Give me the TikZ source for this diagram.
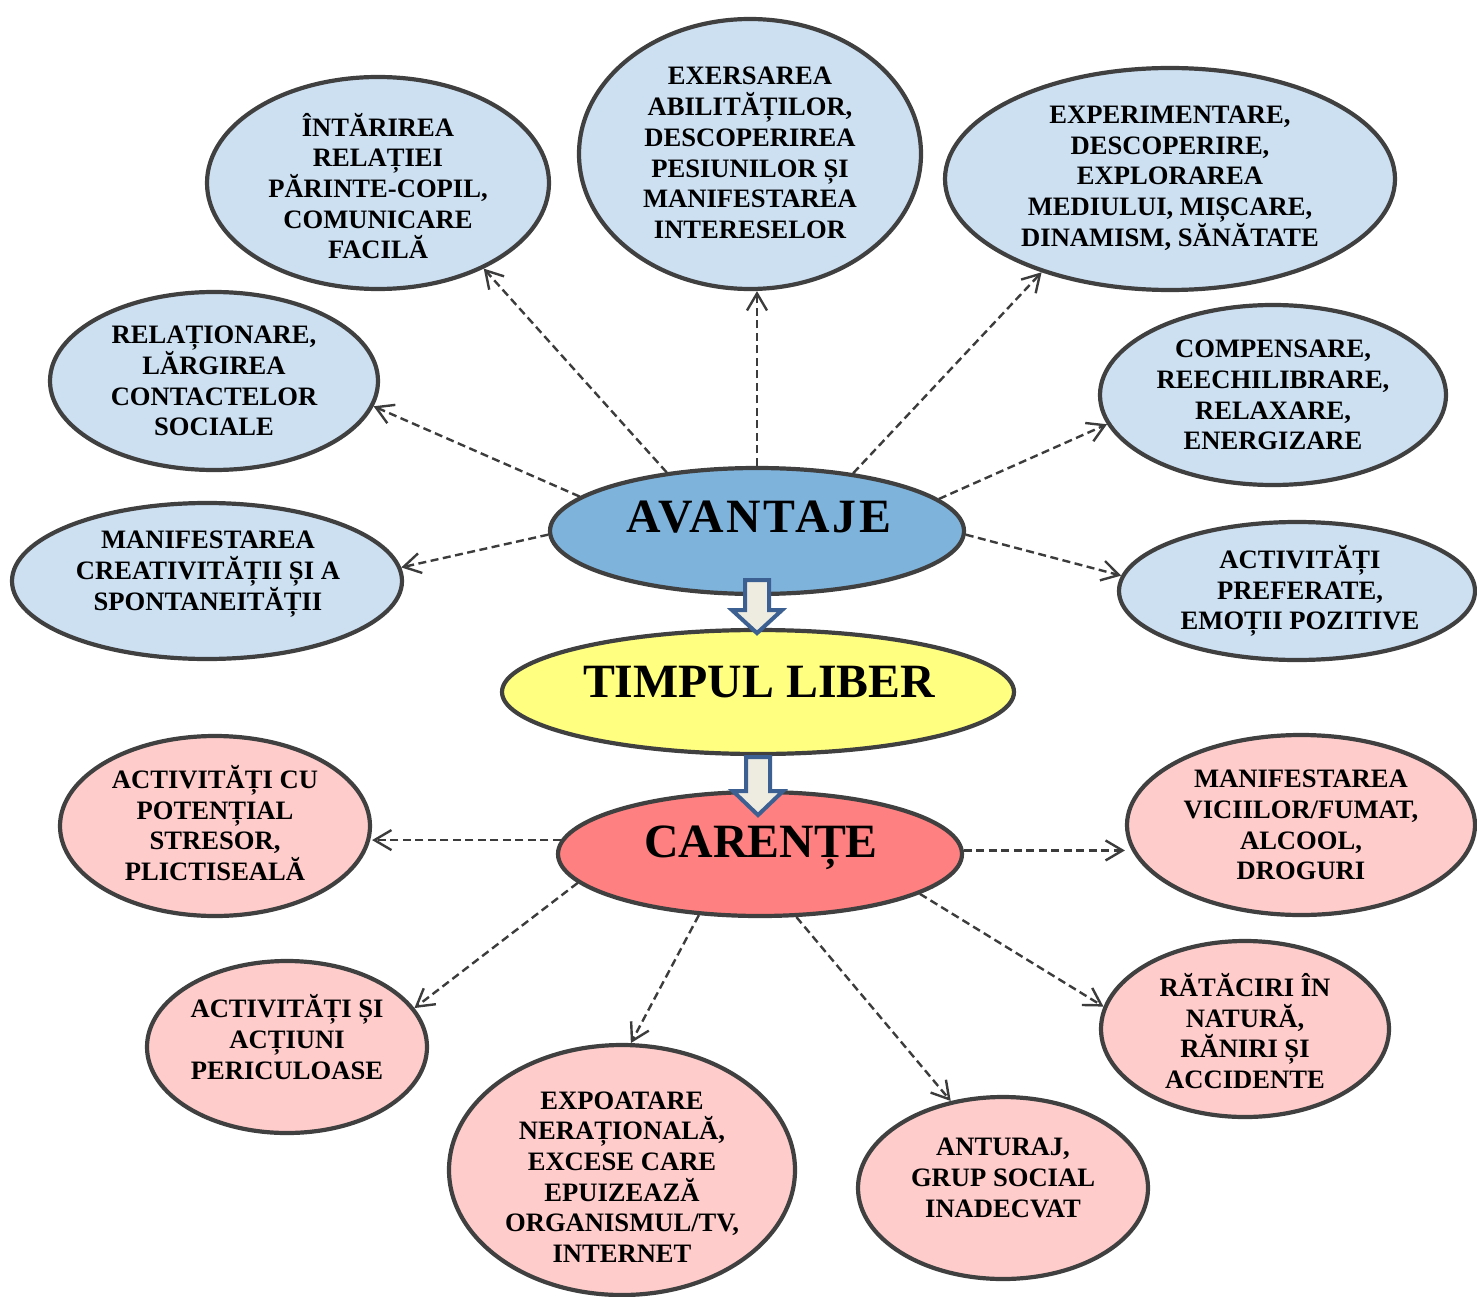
\documentclass[tikz,border=0pt]{standalone}
\usepackage{fontspec}
\setmainfont{Liberation Serif}
\usetikzlibrary{arrows.meta,shapes.geometric,calc}

\definecolor{edgegray}{RGB}{64,64,64}
\definecolor{linkgray}{RGB}{60,60,60}
\definecolor{paleblue}{RGB}{204,224,242}
\definecolor{midblue}{RGB}{126,179,220}
\definecolor{sunyellow}{RGB}{255,255,128}
\definecolor{salmon}{RGB}{255,128,128}
\definecolor{palepink}{RGB}{255,204,204}
\definecolor{arrowblue}{RGB}{60,96,146}
\definecolor{arrowfill}{RGB}{238,236,225}

\begin{document}
\begin{tikzpicture}[x=1pt,y=-1pt,
  bubble/.style={ellipse, draw=edgegray, line width=4.2pt, inner sep=0pt},
  pro/.style={bubble, fill=paleblue},
  con/.style={bubble, fill=palepink},
  txt/.style={align=center, inner sep=0pt, font=\fontsize{26.6}{30.7}\selectfont\bfseries},
  big/.style={inner sep=0pt, text depth=0pt, font=\fontsize{47.8}{50}\selectfont\bfseries},
  link/.style={draw=linkgray, line width=2.4pt, dash pattern=on 8pt off 4.5pt,
    -{Straight Barb[length=17pt,width=20pt]}},
  blockarrow/.style={draw=arrowblue, fill=arrowfill, line width=4pt, line join=miter}
]
\useasboundingbox (0,0) rectangle (1477,1297);

% --- advantages (upper half) ---
\node[pro, minimum width=342pt, minimum height=212pt] (e1) at (378,183) {};
\node[pro, minimum width=342pt, minimum height=270pt] (e2) at (750,154) {};
\node[pro, minimum width=450pt, minimum height=222pt] (e3) at (1170,179) {};
\node[pro, minimum width=328pt, minimum height=178pt] (e4) at (214,381) {};
\node[pro, minimum width=346pt, minimum height=180pt] (e5) at (1273,395) {};
\node[pro, minimum width=390pt, minimum height=156pt] (e6) at (207,581) {};
\node[pro, minimum width=356pt, minimum height=138pt] (e7) at (1297,591) {};

% --- central column ---
\node[bubble, fill=midblue,   minimum width=414pt, minimum height=126pt] (e8)  at (757,531) {};
\node[bubble, fill=sunyellow, minimum width=512pt, minimum height=124pt] (e9)  at (758,692) {};
\node[bubble, fill=salmon,    minimum width=404pt, minimum height=124pt] (e10) at (760,854) {};

% --- shortcomings (lower half) ---
\node[con, minimum width=310pt, minimum height=180pt] (e11) at (215,826) {};
\node[con, minimum width=348pt, minimum height=180pt] (e12) at (1301,825) {};
\node[con, minimum width=280pt, minimum height=172pt] (e13) at (287,1047) {};
\node[con, minimum width=288pt, minimum height=176pt] (e14) at (1245,1029) {};
\node[con, minimum width=346pt, minimum height=250pt] (e15) at (622,1170) {};
\node[con, minimum width=290pt, minimum height=182pt] (e16) at (1003,1188) {};

% --- dashed links from AVANTAJE ---
\draw[link] (e8.147.8) -- (e1.-39.6);
\draw[link] (e8.north) -- (e8.north |- e2.south);
\draw[link] (e8.31.4) -- (e3.216.3);
\draw[link] (e8.169.9) -- (e4.-9.6);
\draw[link] (e8.181) -- (e6.4.3);
\draw[link] (e8.10) -- (e5.190.3);
\draw[link] (e8.-1) -- (e7.175.3);

% --- dashed links from CARENȚE ---
\draw[link] (e10.176) -- (e10.176 -| e11.east);
\draw[link] (e10.1) -- (e10.1 -| e12.west);
\draw[link] (e10.189.4) -- (e13.17.1);
\draw[link] (e10.225.4) -- (e15.86.4);
\draw[link] (e10.-60) -- (e16.121.9);
\draw[link] (e10.-14.9) -- (e14.171.2);

% --- block arrows down the central column ---
\path[blockarrow] (e8.south) ++(-12,-16) -- ++(24,0) -- ++(0,30) -- ++(13,0)
  -- ++(-25,23) -- ++(-25,-23) -- ++(13,0) -- cycle;
\path[blockarrow] (e9.south) ++(-12,1) -- ++(24,0) -- ++(0,34) -- ++(13,0)
  -- ++(-25,24) -- ++(-25,-24) -- ++(13,0) -- cycle;

% --- labels ---
\node[txt] (t1) at (378,186) {ÎNTĂRIREA\\RELAȚIEI\\PĂRINTE-COPIL,\\COMUNICARE\\FACILĂ};
\node[txt] (t2) at (750,153) {EXERSAREA\\ABILITĂȚILOR,\\DESCOPERIREA\\PESIUNILOR ȘI\\MANIFESTAREA\\INTERESELOR};
\node[txt] (t3) at (1170,178) {EXPERIMENTARE,\\DESCOPERIRE,\\EXPLORAREA\\MEDIULUI, MIȘCARE,\\DINAMISM, SĂNĂTATE};
\node[txt] (t4) at (214,381) {RELAȚIONARE,\\LĂRGIREA\\CONTACTELOR\\SOCIALE};
\node[txt] (t5) at (1273,395) {COMPENSARE,\\REECHILIBRARE,\\RELAXARE,\\ENERGIZARE};
\node[txt] (t6) at (208,574) {MANIFESTAREA\\CREATIVITĂȚII ȘI A\\SPONTANEITĂȚII};
\node[txt] (t7) at (1300,591) {ACTIVITĂȚI\\PREFERATE,\\EMOȚII POZITIVE};

\node[big] (t8)  at (759,517) {\addfontfeature{LetterSpace=6}AVANTAJE};
\node[big] (t9)  at (759,682) {TIMPUL LIBER};
\node[big] (t10) at (761,842) {CARENȚE};

\node[txt] (t11) at (215,823) {ACTIVITĂȚI CU\\POTENȚIAL\\STRESOR,\\PLICTISEALĂ};
\node[txt] (t12) at (1301,825) {MANIFESTAREA\\VICIILOR/FUMAT,\\ALCOOL,\\DROGURI};
\node[txt] (t13) at (287,1037) {ACTIVITĂȚI ȘI\\ACȚIUNI\\PERICULOASE};
\node[txt] (t14) at (1245,1031) {RĂTĂCIRI ÎN\\NATURĂ,\\RĂNIRI ȘI\\ACCIDENTE};
\node[txt] (t15) at (622,1177) {EXPOATARE\\NERAȚIONALĂ,\\EXCESE CARE\\EPUIZEAZĂ\\ORGANISMUL/TV,\\INTERNET};
\node[txt] (t16) at (1003,1178) {ANTURAJ,\\GRUP SOCIAL\\INADECVAT};
\end{tikzpicture}
\end{document}
